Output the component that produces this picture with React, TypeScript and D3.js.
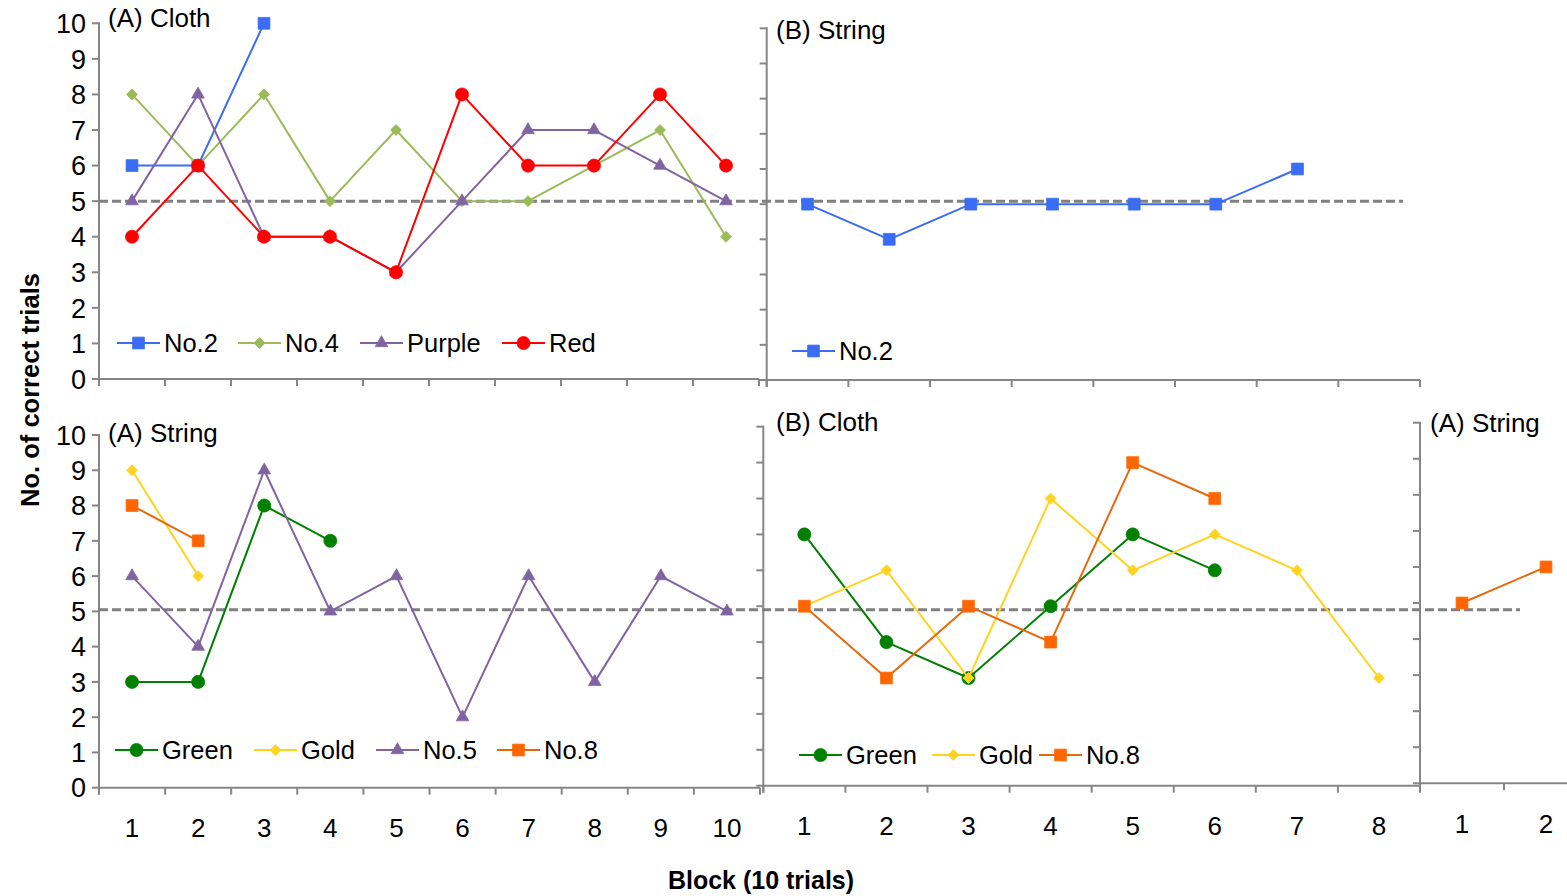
import React from "react";
import * as d3 from "d3";

// ---------- data ----------
const BLOCKS_10 = ["1", "2", "3", "4", "5", "6", "7", "8", "9", "10"];
const BLOCKS_8 = ["1", "2", "3", "4", "5", "6", "7", "8"];
const BLOCKS_2 = ["1", "2"];
const Y_TICKS = [0, 1, 2, 3, 4, 5, 6, 7, 8, 9, 10];
const CHANCE = 5;

// (A) Cloth – top left
const clothA_No2 = [6, 6, 10];
const clothA_No4 = [8, 6, 8, 5, 7, 5, 5, 6, 7, 4];
const clothA_Purple = [5, 8, 4, 4, 3, 5, 7, 7, 6, 5];
const clothA_Red = [4, 6, 4, 4, 3, 8, 6, 6, 8, 6];
// (B) String – top right
const stringB_No2 = [5, 4, 5, 5, 5, 5, 6];
// (A) String – bottom left
const stringA_Green = [3, 3, 8, 7];
const stringA_Gold = [9, 6];
const stringA_No5 = [6, 4, 9, 5, 6, 2, 6, 3, 6, 5];
const stringA_No8 = [8, 7];
// (B) Cloth – bottom middle
const clothB_Green = [7, 4, 3, 5, 7, 6];
const clothB_Gold = [5, 6, 3, 8, 6, 7, 6, 3];
const clothB_No8 = [5, 3, 5, 4, 9, 8];
// (A) String – bottom right
const stringA2_No8 = [5, 6];

// ---------- styles ----------
const C = {
  blue: { line: "#3A6CF4", mark: "#3A6CF4", shape: "square" },
  lime: { line: "#9BBB59", mark: "#9BBB59", shape: "diamond" },
  purple: { line: "#8064A2", mark: "#8064A2", shape: "triangle" },
  red: { line: "#FF0000", mark: "#FF0000", shape: "circle" },
  green: { line: "#008000", mark: "#008000", shape: "circle" },
  gold: { line: "#FFD320", mark: "#FFD320", shape: "diamond" },
  orange: { line: "#E8680E", mark: "#FF6600", shape: "square" },
};

type Style = { line: string; mark: string; shape: string };
type Series = { name: string; values: number[]; style: Style };

const AXIS = "#868686";
const FONT = "'Liberation Sans', Arial, sans-serif";

type Panel = {
  x0: number; x1: number; yB: number; yT: number;
  cats: string[]; yLabels: boolean; xLabels: boolean;
  title: string; tx: number; ty: number;
  series: Series[];
  legend: { x: number[]; y: number };
  xEndTick: boolean;
};

const panels: Panel[] = [
  {
    x0: 99, x1: 759, yB: 379, yT: 23.3, cats: BLOCKS_10, yLabels: true, xLabels: false,
    title: "(A) Cloth", tx: 108, ty: 27,
    series: [
      { name: "No.2", values: clothA_No2, style: C.blue },
      { name: "No.4", values: clothA_No4, style: C.lime },
      { name: "Purple", values: clothA_Purple, style: C.purple },
      { name: "Red", values: clothA_Red, style: C.red },
    ],
    legend: { x: [117, 238, 360, 502], y: 343 }, xEndTick: true,
  },
  {
    x0: 766.7, x1: 1420, yB: 380, yT: 28.3, cats: BLOCKS_8, yLabels: false, xLabels: false,
    title: "(B) String", tx: 776, ty: 38.5,
    series: [{ name: "No.2", values: stringB_No2, style: C.blue }],
    legend: { x: [792], y: 351 }, xEndTick: true,
  },
  {
    x0: 99, x1: 760, yB: 787.7, yT: 435, cats: BLOCKS_10, yLabels: true, xLabels: true,
    title: "(A) String", tx: 108, ty: 442,
    series: [
      { name: "Green", values: stringA_Green, style: C.green },
      { name: "Gold", values: stringA_Gold, style: C.gold },
      { name: "No.5", values: stringA_No5, style: C.purple },
      { name: "No.8", values: stringA_No8, style: C.orange },
    ],
    legend: { x: [115, 254, 376, 497], y: 750 }, xEndTick: true,
  },
  {
    x0: 763.3, x1: 1420, yB: 785.7, yT: 426.7, cats: BLOCKS_8, yLabels: false, xLabels: true,
    title: "(B) Cloth", tx: 776, ty: 430.5,
    series: [
      { name: "Green", values: clothB_Green, style: C.green },
      { name: "Gold", values: clothB_Gold, style: C.gold },
      { name: "No.8", values: clothB_No8, style: C.orange },
    ],
    legend: { x: [799, 932, 1039], y: 755 }, xEndTick: true,
  },
  {
    x0: 1420, x1: 1588, yB: 783.3, yT: 422.7, cats: BLOCKS_2, yLabels: false, xLabels: true,
    title: "(A) String", tx: 1430, ty: 432,
    series: [{ name: "No.8", values: stringA2_No8, style: C.orange }],
    legend: { x: [], y: 0 }, xEndTick: false,
  },
];

function markerPath(shape: string): { d: string; rot: number } {
  if (shape === "square") return { d: d3.symbol(d3.symbolSquare, 140)() as string, rot: 0 };
  if (shape === "diamond") return { d: d3.symbol(d3.symbolSquare, 60)() as string, rot: 45 };
  if (shape === "triangle") return { d: d3.symbol(d3.symbolTriangle, 70)() as string, rot: 0 };
  return { d: d3.symbol(d3.symbolCircle, 135)() as string, rot: 0 };
}

function Marker({ x, y, style }: { x: number; y: number; style: Style }) {
  const m = markerPath(style.shape);
  return (
    <path
      d={m.d}
      transform={`translate(${x},${y}) rotate(${m.rot})`}
      fill={style.mark}
      stroke={style.mark}
      strokeWidth={0.75}
    />
  );
}

function PanelView({ p }: { p: Panel }) {
  const x = d3.scaleBand<string>().domain(p.cats).range([p.x0, p.x1]).padding(0);
  const y = d3.scaleLinear().domain([0, 10]).range([p.yB, p.yT]);
  const cx = (i: number) => (x(p.cats[i]) as number) + x.bandwidth() / 2;
  const boundaries = p.cats.map((c) => x(c) as number).concat(p.xEndTick ? [p.x1] : []);
  return (
    <g>
      {/* y axis */}
      <line x1={p.x0} x2={p.x0} y1={y(10) - 1} y2={p.yB + 7} stroke={AXIS} strokeWidth={2} />
      {Y_TICKS.map((t) => (
        <line key={t} x1={p.x0 - 7} x2={p.x0} y1={y(t)} y2={y(t)} stroke={AXIS} strokeWidth={2} />
      ))}
      {p.yLabels &&
        Y_TICKS.map((t) => (
          <text key={t} x={p.x0 - 13} y={y(t)} dy="0.36em" textAnchor="end" fontSize={27} fontFamily={FONT} fill="#000">
            {t}
          </text>
        ))}
      {/* x axis */}
      <line x1={p.x0} x2={p.x1} y1={p.yB} y2={p.yB} stroke={AXIS} strokeWidth={2} />
      {boundaries.map((b, i) => (
        <line key={i} x1={b} x2={b} y1={p.yB} y2={p.yB + 7} stroke={AXIS} strokeWidth={2} />
      ))}
      {p.xLabels &&
        p.cats.map((c, i) => (
          <text key={c} x={cx(i)} y={p.yB + 40} dy="0.36em" textAnchor="middle" fontSize={26} fontFamily={FONT} fill="#000">
            {c}
          </text>
        ))}
      <text x={p.tx} y={p.ty} fontSize={26} fontFamily={FONT} fill="#000">
        {p.title}
      </text>
    </g>
  );
}

function PanelSeries({ p }: { p: Panel }) {
  const x = d3.scaleBand<string>().domain(p.cats).range([p.x0, p.x1]).padding(0);
  const y = d3.scaleLinear().domain([0, 10]).range([p.yB, p.yT]);
  const cx = (i: number) => (x(p.cats[i]) as number) + x.bandwidth() / 2;
  const line = d3
    .line<number>()
    .x((_, i) => cx(i))
    .y((v) => y(v));
  return (
    <g>
      {p.series.map((s) => (
        <g key={s.name}>
          <path d={line(s.values) as string} fill="none" stroke={s.style.line} strokeWidth={2} strokeLinejoin="round" />
          {s.values.map((v, i) => (
            <Marker key={i} x={cx(i)} y={y(v)} style={s.style} />
          ))}
        </g>
      ))}
      {p.legend.x.map((lx, i) => {
        const s = p.series[i];
        return (
          <g key={s.name}>
            <line x1={lx} x2={lx + 43} y1={p.legend.y} y2={p.legend.y} stroke={s.style.line} strokeWidth={2} />
            <Marker x={lx + 21.5} y={p.legend.y} style={s.style} />
            <text x={lx + 47} y={p.legend.y} dy="0.36em" fontSize={25.5} fontFamily={FONT} fill="#000">
              {s.name}
            </text>
          </g>
        );
      })}
    </g>
  );
}

export default function App() {
  React.useEffect(() => {
    document.body.style.margin = "0";
  }, []);
  const top = panels[0];
  const bot = panels[2];
  const yTop = d3.scaleLinear().domain([0, 10]).range([top.yB, top.yT]);
  const yBot = d3.scaleLinear().domain([0, 10]).range([bot.yB, bot.yT]);
  return (
    <svg
      width={1567}
      height={896}
      style={{ position: "absolute", left: 0, top: 0, background: "#fff" }}
    >
      <rect x={0} y={0} width={1567} height={896} fill="#fff" />
      {panels.map((p, i) => (
        <PanelView key={i} p={p} />
      ))}
      {/* chance lines */}
      <line x1={99} x2={1403} y1={yTop(CHANCE)} y2={yTop(CHANCE)} stroke="#808080" strokeWidth={3} strokeDasharray="9,4" />
      <line x1={99} x2={1520} y1={yBot(CHANCE) - 1.5} y2={yBot(CHANCE) - 1.5} stroke="#808080" strokeWidth={3} strokeDasharray="9,4" />
      {panels.map((p, i) => (
        <PanelSeries key={i} p={p} />
      ))}
      <text
        transform="translate(30,390) rotate(-90)"
        dy="0.36em"
        textAnchor="middle"
        fontSize={25.5}
        fontWeight="bold"
        fontFamily={FONT}
        fill="#000"
      >
        No. of correct trials
      </text>
      <text x={761} y={880} dy="0.36em" textAnchor="middle" fontSize={25} fontWeight="bold" fontFamily={FONT} fill="#000">
        Block (10 trials)
      </text>
    </svg>
  );
}
